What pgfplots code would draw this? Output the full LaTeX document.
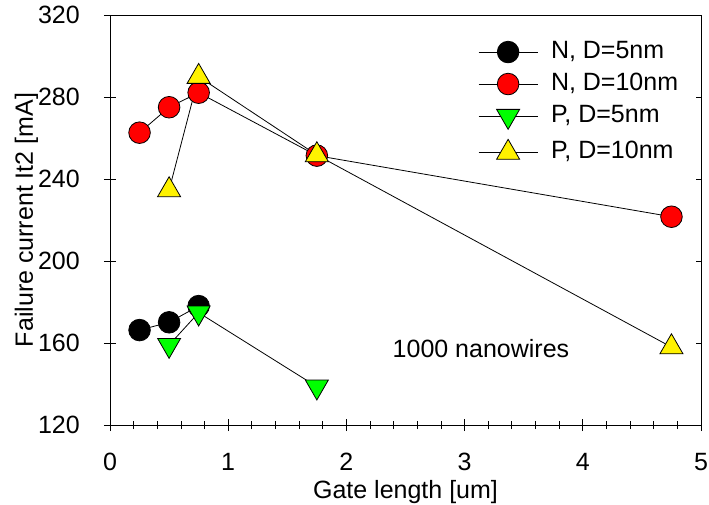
\documentclass[border=0pt]{standalone}
\usepackage{fontspec}
\setmainfont{Liberation Sans}
\usepackage{pgfplots}
\pgfplotsset{compat=1.18}
\newcommand{\ff}{\fontsize{25bp}{30bp}\selectfont}
\begin{document}
\ff
\begin{tikzpicture}
\begin{axis}[
  scale only axis,
  width=591bp, height=410bp,
  xmin=0, xmax=5, ymin=120, ymax=320,
  xtick={0,1,2,3,4,5},
  minor x tick num=4,
  ytick={120,160,200,240,280,320},
  xtick pos=left, ytick pos=left,
  tick align=center,
  major tick length=12bp, minor tick length=8bp,
  tick style={black, line width=0.8bp},
  axis line style={line width=0.8bp},
  /pgf/number format/assume math mode=true,
  ticklabel style={font=\ff},
  xticklabel style={anchor=north, inner sep=0pt, yshift=-22bp},
  yticklabel style={anchor=east, inner sep=0pt, xshift=-24bp},
  every axis x label/.style={at={(rel axis cs:0.5,0)}, anchor=base, yshift=-73bp},
  every axis y label/.style={at={(rel axis cs:0,0.5)}, rotate=90, anchor=base, yshift=77bp},
  label style={font=\ff},
  xlabel={Gate length [um]},
  ylabel={Failure current It2 [mA]},
  clip=false,
  legend style={draw=none, fill=none, at={(rel axis cs:0.6227,0.937)}, anchor=north west,
    inner sep=0pt, row sep=10bp, font=\ff,
    nodes={inner sep=0pt, text height=17bp, text depth=5bp},
    /tikz/every odd column/.append style={column sep=13bp}},
  legend cell align=left,
  legend image code/.code={\draw[mark repeat=2,mark phase=2] plot coordinates {(0bp,0bp) (29.5bp,0bp) (59bp,0bp)};},
  every axis plot/.append style={black, line width=0.8bp},
]
\addplot[mark=*, mark size=10.8bp, mark options={fill=black, draw=black}] coordinates {
  (0.25,166.3) (0.5,170.1) (0.75,178.0)};
\addlegendentry{N, D=5nm}
\addplot[mark=*, mark size=10.8bp, mark options={fill=red, draw=black}] coordinates {
  (0.25,262.6) (0.5,275.0) (0.75,282.1) (1.75,251.4) (4.75,221.6)};
\addlegendentry{N, D=10nm}
\addplot[mark=triangle*, mark size=13.3bp, mark options={fill=green, draw=black, rotate=180}] coordinates {
  (0.5,159.0) (0.75,174.8) (1.75,138.7)};
\addlegendentry{P, D=5nm}
\addplot[mark=triangle*, mark size=13.3bp, mark options={fill=yellow, draw=black}] coordinates {
  (0.5,234.6) (0.75,289.9) (1.75,251.7) (4.75,158.0)};
\addlegendentry{P, D=10nm}
\node[anchor=base west, inner sep=0pt, font=\ff] at (axis cs:2.39,152.7) {1000 nanowires};
\coordinate (O) at (rel axis cs:0,0);
\end{axis}
\begin{axis}[
  scale only axis,
  width=591bp, height=410bp,
  xmin=0, xmax=5, ymin=120, ymax=320,
  axis x line=none, axis y line*=right,
  ytick={120,160,200,240,280,320}, yticklabels={},
  tick align=inside, major tick length=5bp,
  tick style={black, line width=0.8bp},
  axis line style={line width=0.8bp, -},
]
\end{axis}
\pgfresetboundingbox
\path ([shift={(-110bp,-80bp)}]O) rectangle ([shift={(599bp,425bp)}]O);
\end{tikzpicture}
\end{document}
